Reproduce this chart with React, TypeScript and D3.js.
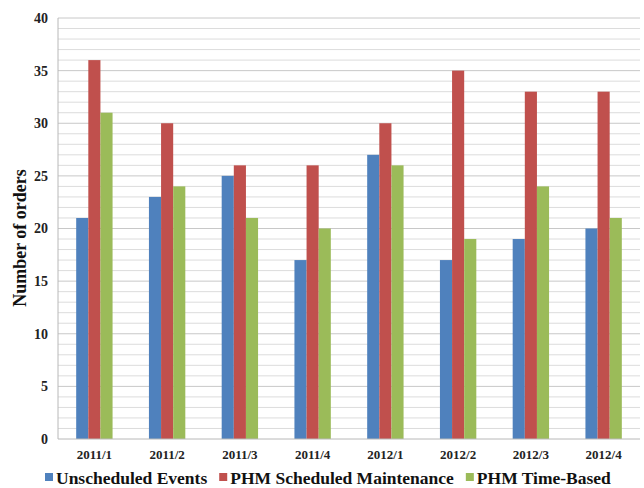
import React, { useRef, useEffect } from 'react';
import * as d3 from 'd3';

const quarters = ['2011/1', '2011/2', '2011/3', '2011/4', '2012/1', '2012/2', '2012/3', '2012/4'];
const seriesNames = ['Unscheduled Events', 'PHM Scheduled Maintenance', 'PHM Time-Based'];
const unscheduled = [21, 23, 25, 17, 27, 17, 19, 20];
const phmScheduled = [36, 30, 26, 26, 30, 35, 33, 33];
const phmTimeBased = [31, 24, 21, 20, 26, 19, 24, 21];
const colors = ['#4F81BD', '#C0504D', '#9BBB59'];
const yTicks = [0, 5, 10, 15, 20, 25, 30, 35, 40];

const W = 644;
const H = 488;
const FONT = "'Liberation Serif'";

const App: React.FC = () => {
  const svgRef = useRef<SVGSVGElement>(null);

  useEffect(() => {
    if (!svgRef.current) return;
    const svg = d3.select(svgRef.current);
    svg.selectAll('*').remove();

    const left = 58, right = 640, top = 18, bottom = 439;
    const series = [unscheduled, phmScheduled, phmTimeBased];

    const x = d3.scaleBand().domain(quarters).range([left, right]).paddingInner(0.5).paddingOuter(0.25);
    const xi = d3.scaleBand().domain(seriesNames).range([0, x.bandwidth()]);
    const y = d3.scaleLinear().domain([0, 40]).range([bottom, top]);

    // gridlines every 1 unit
    const grid = svg.append('g');
    d3.range(1, 41).forEach((v) => {
      grid.append('line')
        .attr('x1', left).attr('x2', right)
        .attr('y1', y(v)).attr('y2', y(v))
        .attr('stroke', v % 5 === 0 ? '#c8c8c8' : '#dcdcdc')
        .attr('stroke-width', 1);
    });

    // bars
    quarters.forEach((q, i) => {
      series.forEach((s, k) => {
        svg.append('rect')
          .attr('x', (x(q) as number) + (xi(seriesNames[k]) as number))
          .attr('y', y(s[i]))
          .attr('width', xi.bandwidth())
          .attr('height', y(0) - y(s[i]))
          .attr('fill', colors[k]);
      });
    });

    // axis lines
    svg.append('line').attr('x1', left).attr('x2', left).attr('y1', top).attr('y2', bottom)
      .attr('stroke', '#b8b8b8');
    svg.append('line').attr('x1', left).attr('x2', right).attr('y1', bottom).attr('y2', bottom)
      .attr('stroke', '#b8b8b8');

    const txt = (sel: d3.Selection<SVGTextElement, unknown, null, undefined>, size: number) =>
      sel.style('font-family', FONT).style('font-weight', 'bold').style('font-size', `${size}px`);

    // y tick labels
    yTicks.forEach((t) => {
      txt(svg.append('text'), 14)
        .attr('x', left - 10).attr('y', y(t))
        .attr('dy', '0.35em')
        .attr('text-anchor', 'end')
        .attr('fill', '#222')
        .text(t);
    });

    // x labels
    quarters.forEach((q) => {
      txt(svg.append('text'), 13)
        .attr('x', (x(q) as number) + x.bandwidth() / 2)
        .attr('y', 459)
        .attr('text-anchor', 'middle')
        .attr('fill', '#222')
        .text(q);
    });

    // y title
    txt(svg.append('text'), 18)
      .attr('transform', 'translate(26,238) rotate(-90)')
      .attr('text-anchor', 'middle')
      .attr('fill', '#111')
      .text('Number of orders');

    // legend, laid out from measured text widths
    let lx = 45;
    seriesNames.forEach((name, k) => {
      const g = svg.append('g').attr('transform', `translate(${lx},484)`);
      g.append('rect').attr('x', 0).attr('y', -11).attr('width', 8).attr('height', 8).attr('fill', colors[k]);
      const t = txt(g.append('text'), 17.5)
        .attr('x', 11).attr('y', 0)
        .attr('fill', '#111')
        .text(name);
      const w = (t.node() as SVGTextElement).getComputedTextLength();
      lx += 11 + w + 12;
    });
  }, []);

  return (
    <svg
      ref={svgRef}
      width={W}
      height={H}
      style={{ position: 'absolute', left: 0, top: 0, background: '#fff' }}
    />
  );
};

export default App;
